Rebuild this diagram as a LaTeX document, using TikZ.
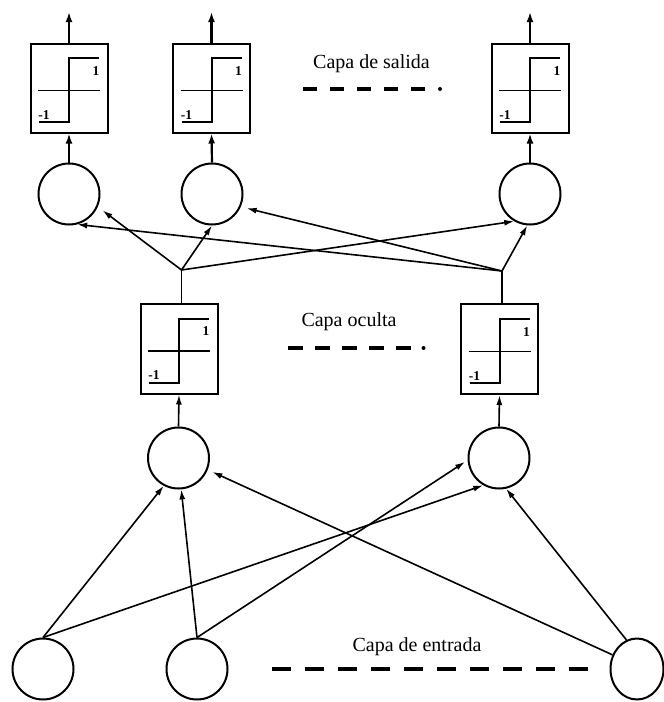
\documentclass[tikz,border=0pt]{standalone}
\usepackage{fontspec}
\setmainfont{Liberation Serif}
\usetikzlibrary{arrows.meta,shapes.geometric}

% Step activation drawn inside a box node: axis, sign step and the labels 1 / -1
\newcommand\stepgraph[1]{%
  \draw[line width=1.5pt] ([shift={(-31,2.5)}]#1.center) -- ([shift={(31,2.5)}]#1.center);
  \draw[line width=2pt] ([shift={(-30,34)}]#1.center) -- ([shift={(0,34)}]#1.center)
        -- ([shift={(0,-30)}]#1.center) -- ([shift={(30,-30)}]#1.center);
  \node[digit] (#1-hi) at ([shift={(27,-17)}]#1.center) {1};
  \node[digit] (#1-lo) at ([shift={(-25,27)}]#1.center) {-1};
}

\begin{document}
\begin{tikzpicture}[x=1pt,y=-1pt,
  neuron/.style={draw,circle,line width=2pt,minimum size=61pt,inner sep=0pt},
  actbox/.style={draw,rectangle,line width=2pt,minimum width=77pt,minimum height=89pt,inner sep=0pt},
  link/.style={line width=1.6pt,-{Latex[length=10pt,width=6pt]}},
  outlink/.style={line width=2.2pt,-{Latex[length=10pt,width=7pt]}},
  layertext/.style={font=\fontsize{20}{20}\selectfont,anchor=base,inner sep=0pt},
  layerdash/.style={line width=3.8pt},
  digit/.style={font=\fontsize{13.5}{13.5}\selectfont\bfseries,inner sep=0pt}
]
\useasboundingbox (0,0) rectangle (664,702);

% output layer
\node[actbox] (ob1) at (69,88) {};
\node[actbox] (ob2) at (211.5,88) {};
\node[actbox] (ob3) at (530,88) {};
\stepgraph{ob1}\stepgraph{ob2}\stepgraph{ob3}
\node[neuron] (on1) at (69,194) {};
\node[neuron] (on2) at (212,194) {};
\node[neuron] (on3) at (530,194) {};
\coordinate (y1) at (69,12);
\coordinate (y2) at (211.5,12);
\coordinate (y3) at (530,12);

% hidden layer
\node[actbox,minimum height=90pt] (hb1) at (179,348.5) {};
\node[actbox,minimum height=90pt] (hb2) at (499.5,349) {};
\stepgraph{hb1}\stepgraph{hb2}
\node[neuron] (hn1) at (178.5,458) {};
\node[neuron] (hn2) at (499,458) {};
\coordinate (j1) at (181.5,270);
\coordinate (j2) at (502,271);

% input layer
\node[neuron] (in1) at (43,669) {};
\node[neuron] (in2) at (197,669) {};
\node[draw,ellipse,line width=2pt,minimum width=53pt,minimum height=61pt,inner sep=0pt] (in3) at (637,669) {};

% layer captions
\node[layertext] (tout) at (371.5,68) {Capa de salida};
\node[layertext] (thid) at (349,326.5) {Capa oculta};
\node[layertext] (tin) at (417,651) {Capa de entrada};
\draw[layerdash,dash pattern=on 14pt off 13pt] (303,89) -- (425,89);
\fill (440,89) circle (2);
\draw[layerdash,dash pattern=on 15pt off 12pt] (288,348) -- (411,348);
\fill (423.5,348) circle (2);
\draw[layerdash,line width=4pt,dash pattern=on 19pt off 14pt] (272,669) -- (588,669);

% output arrows
\draw[outlink] (ob1.north) -- (y1);
\draw[outlink] (ob2.north) -- (y2);
\draw[outlink] (ob3.north) -- (y3);
\draw[outlink] (on1.north) -- (ob1.south);
\draw[outlink] (on2.north) -- (ob2.south);
\draw[outlink] (on3.north) -- (ob3.south);

% hidden to output
\draw[line width=1.6pt] (j1 |- hb1.north) -- (j1);
\draw[line width=1.6pt] (j2 |- hb2.north) -- (j2);
\draw[link,shorten >=6pt] (j1) -- (on1.-24);
\draw[link] (j1) -- (on2.-90);
\draw[link] (j1) -- (on3.-120);
\draw[link] (j2) -- (on1.-75);
\draw[link,shorten >=6pt] (j2) -- (on2.-24);
\draw[link] (j2) -- (on3.-95);

% input to hidden
\draw[link] (hn1.north) -- (hb1.south);
\draw[link] (hn2.north) -- (hb2.south);
\draw[link] (in1.north) -- (hn1.-118);
\draw[link] (in1.north) -- (hn2.-120);
\draw[link] (in2.north) -- (hn1.-85);
\draw[link,shorten >=3pt] (in2.north) -- (hn2.-176);
\draw[link,shorten >=5pt] (in3.150) -- (hn1.-22);
\draw[link] (in3.110) -- (hn2.-77);
\end{tikzpicture}
\end{document}
